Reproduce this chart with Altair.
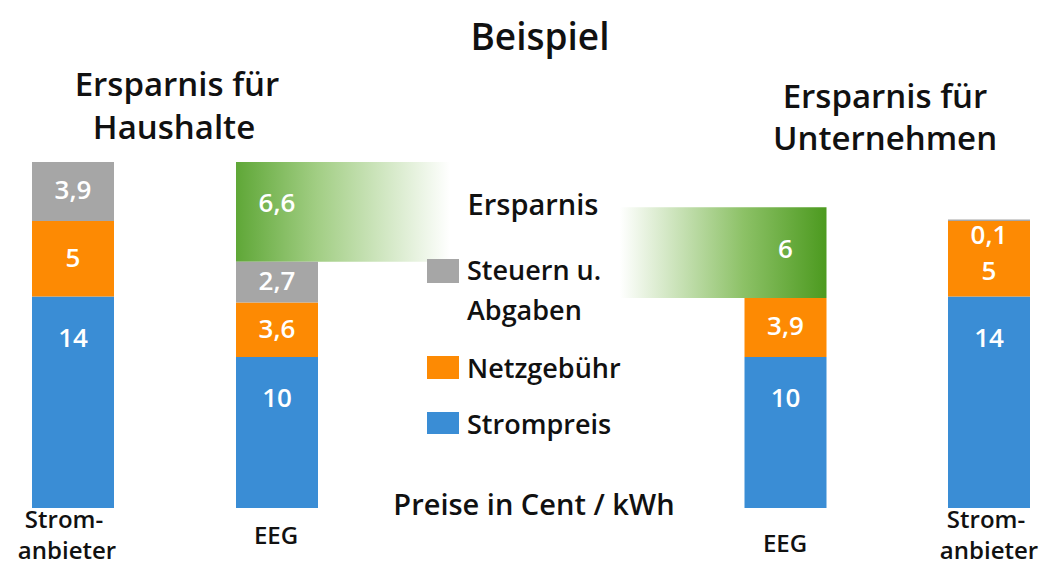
import altair as alt
import pandas as pd

# ---------------- data ----------------
bars = ["Stromanbieter (Haushalte)", "EEG (Haushalte)", "EEG (Unternehmen)", "Stromanbieter (Unternehmen)"]
components = ["Strompreis", "Netzgebühr", "Steuern u. Abgaben", "Ersparnis"]
strompreis = [14, 10, 10, 14]
netzgebuehr = [5, 3.6, 3.9, 5]
steuern = [3.9, 2.7, 0, 0.1]
ersparnis = [0, 6.6, 6, 0]
bar_labels = [["Strom-", "anbieter"], ["EEG"], ["EEG"], ["Strom-", "anbieter"]]
title = "Beispiel"
group_titles = [["Ersparnis für", "Haushalte"], ["Ersparnis für", "Unternehmen"]]
unit_note = "Preise in Cent / kWh"

# ---------------- layout ----------------
W, H = 1036, 560
FONT = "Open Sans"
centers = [65, 269, 777.5, 981]
half = 41
base_px = 500
k = 346 / 22.9
y_dom = [-(H - base_px) / k, base_px / k]
colors = {"Strompreis": "#3a8dd5", "Netzgebühr": "#fd8a03", "Steuern u. Abgaben": "#a6a6a6"}

rows = []
for i, b in enumerate(bars):
    cum = 0.0
    seg = []
    for comp, vals in zip(components, [strompreis, netzgebuehr, steuern, ersparnis]):
        v = vals[i]
        if v <= 0:
            continue
        r = dict(bar=b, comp=comp, value=v, y0=cum, y1=cum + v,
                 xl=centers[i] - half, xr=centers[i] + half, xc=centers[i],
                 label=f"{v:g}".replace(".", ","))
        mid = (r["y0"] + r["y1"]) / 2
        r["ly"] = max(mid, r["y1"] - 2.8)
        seg.append(r)
        cum += v
    for j, r in enumerate(seg):
        if r["value"] < 0.5 and j > 0:
            r["ly"] = r["y1"] - 1.1
            p = seg[j - 1]
            p["ly"] = (p["y0"] + p["y1"] - 1.8) / 2
    rows.extend(seg)
df = pd.DataFrame(rows)

xs = alt.Scale(domain=[0, W], nice=False, zero=False)
ys = alt.Scale(domain=y_dom, nice=False, zero=False)
cscale = alt.Scale(domain=list(colors), range=list(colors.values()))

base_segs = df[df.comp != "Ersparnis"]
stack = alt.Chart(base_segs).mark_rect().encode(
    x=alt.X("xl:Q", scale=xs, axis=None),
    x2="xr:Q",
    y=alt.Y("y0:Q", scale=ys, axis=None),
    y2="y1:Q",
    color=alt.Color("comp:N", scale=cscale, legend=None),
)

# Ersparnis bands with fading gradient
ers = df[df.comp == "Ersparnis"].copy()
band_h = ers[ers.bar == bars[1]].copy()
band_h["xr"] = 442
band_u = ers[ers.bar == bars[2]].copy()
band_u["xl"] = 612
grad_h = alt.LinearGradient(gradient="linear", x1=0, x2=1, y1=0, y2=0, stops=[
    alt.GradientStop(color="#5fa737", offset=0),
    alt.GradientStop(color="#a2ce84", offset=0.38),
    alt.GradientStop(color="#ffffff", offset=1)])
grad_u = alt.LinearGradient(gradient="linear", x1=0, x2=1, y1=0, y2=0, stops=[
    alt.GradientStop(color="#ffffff", offset=0),
    alt.GradientStop(color="#8cc166", offset=0.6),
    alt.GradientStop(color="#4c9a1f", offset=1)])

def band(d, g):
    return alt.Chart(d).mark_rect(color=g).encode(
        x=alt.X("xl:Q", scale=xs, axis=None), x2="xr:Q",
        y=alt.Y("y0:Q", scale=ys, axis=None), y2="y1:Q")

values = alt.Chart(df).mark_text(font=FONT, fontSize=26, fontWeight=600, color="white",
                                  baseline="middle", align="center").encode(
    x=alt.X("xc:Q", scale=xs, axis=None),
    y=alt.Y("ly:Q", scale=ys, axis=None),
    text="label:N")

# ---------------- annotations ----------------
ann = [
    (title, 532, 42, 37, "center"),
    (group_titles[0][0], 169, 88, 33, "center"),
    (group_titles[0][1], 166, 131, 33, "center"),
    (group_titles[1][0], 877, 100, 33, "center"),
    (group_titles[1][1], 877, 142, 33, "center"),
    ("Ersparnis", 525, 207, 29, "center"),
    (unit_note, 526, 507, 29, "center"),
    ("Steuern u.", 459, 272, 27, "left"),
    ("Abgaben", 459, 312, 27, "left"),
    ("Netzgebühr", 459, 370, 27, "left"),
    ("Strompreis", 459, 426, 27, "left"),
]
lab_pos = [[(56, 520), (59, 551)], [(268, 536)], [(777, 544)], [(978, 520), (981, 551)]]
for lines, poss in zip(bar_labels, lab_pos):
    for t, (px, py) in zip(lines, poss):
        ann.append((t, px, py, 24, "center"))
ann_df = pd.DataFrame(ann, columns=["t", "px", "py", "fs", "al"])

def texts(align):
    d = ann_df[ann_df.al == align]
    return alt.Chart(d).mark_text(font=FONT, fontWeight=600, color="#111111",
                                  baseline="alphabetic", align=align).encode(
        x=alt.X("px:Q", scale=None), y=alt.Y("py:Q", scale=None),
        size=alt.Size("fs:Q", scale=None, legend=None), text="t:N")

leg = pd.DataFrame({
    "comp": ["Steuern u. Abgaben", "Netzgebühr", "Strompreis"],
    "x0": [419, 419, 419], "x1": [451, 451, 451],
    "y0": [251, 348, 404], "y1": [275, 371, 426]})
legend_rects = alt.Chart(leg).mark_rect().encode(
    x=alt.X("x0:Q", scale=None), x2="x1:Q",
    y=alt.Y("y0:Q", scale=None), y2="y1:Q",
    color=alt.Color("comp:N", scale=cscale, legend=None))

chart = alt.layer(
    band(band_h, grad_h), band(band_u, grad_u), stack, values,
    legend_rects, texts("center"), texts("left")
).properties(
    width=W, height=H, padding=0, autosize=alt.AutoSizeParams(type="none")
).configure_view(stroke=None).resolve_scale(color="shared")

chart.save("out.html", embed_options={"renderer": "svg", "actions": False})
